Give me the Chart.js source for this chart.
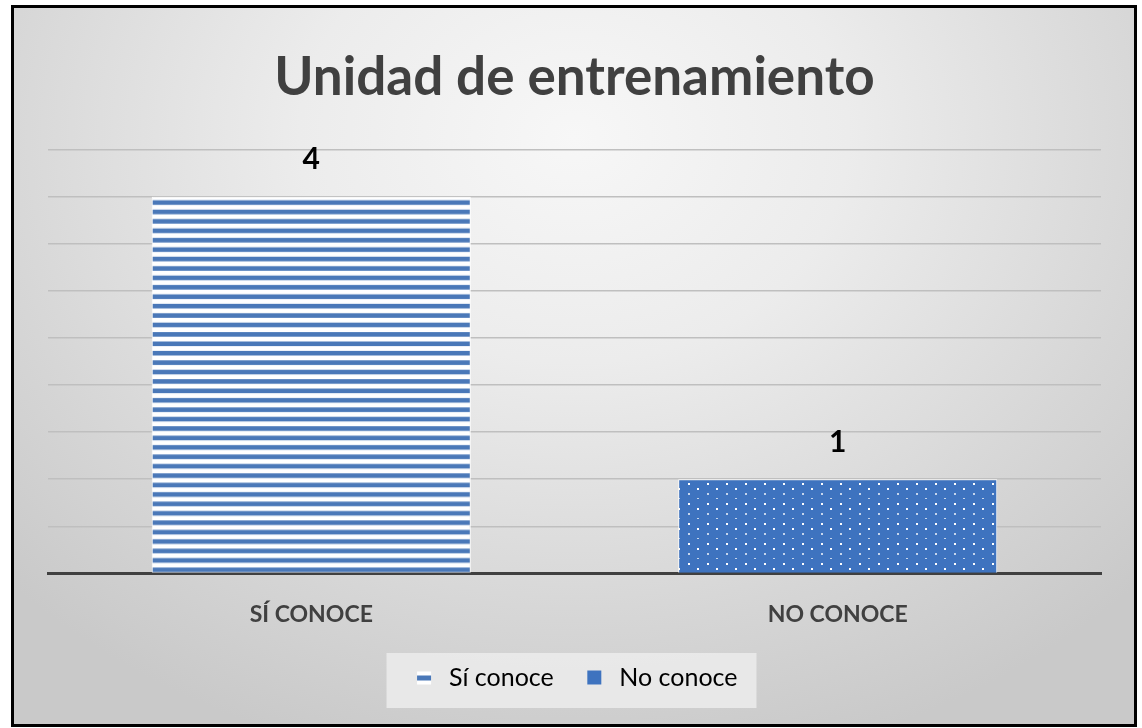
<!DOCTYPE html>
<html>
<head>
<meta charset="utf-8">
<script src="https://cdn.jsdelivr.net/npm/chart.js@4.4.0/dist/chart.umd.min.js"></script>
<style>
html, body { margin: 0; padding: 0; background: #ffffff; }
#marco {
    position: absolute; left: 11px; top: 5px; width: 1120px; height: 716px;
    border: 3px solid #000000;
    background: radial-gradient(ellipse 70% 90% at 50% 18%, #f7f7f7 0%, #ececec 35%, #d6d6d6 75%, #c9c9c9 100%);
}
#caja { position: absolute; left: 0; top: 0; width: 1142px; height: 728px; }
</style>
</head>
<body>
<div id="marco"></div>
<div id="caja"><canvas id="graph_unidad"></canvas></div>
<script>
/*------------------------------*/
/*          Datos               */
/*------------------------------*/
var categorias = ['SÍ CONOCE', 'NO CONOCE']
var leyendas = ['Sí conoce', 'No conoce']
var valores = [4, 1]
var eje_min = 0
var eje_max = 4.5
var eje_paso = 0.5

/*------------------------------*/
/*          Tramas              */
/*------------------------------*/
var ctx_unidad = document.getElementById('graph_unidad').getContext('2d')

function tramaRayas() {
    var c = document.createElement('canvas')
    c.width = 10; c.height = 47
    var g = c.getContext('2d')
    g.fillStyle = '#ffffff'
    g.fillRect(0, 0, 10, 47)
    g.fillStyle = '#4a78b8'
    for (var k = 0; k < 5; k++) g.fillRect(0, 3.5 + k * 9.4, 10, 4.6)
    return ctx_unidad.createPattern(c, 'repeat')
}

function tramaPuntos() {
    var c = document.createElement('canvas')
    c.width = 19; c.height = 20
    var g = c.getContext('2d')
    g.fillStyle = '#3e73bf'
    g.fillRect(0, 0, 19, 20)
    g.fillStyle = '#ffffff'
    g.fillRect(4, 3, 2, 2)
    g.fillRect(13, 8, 2, 2)
    g.fillStyle = 'rgba(255,255,255,0.7)'
    g.fillRect(4, 13, 2, 2)
    g.fillRect(13, 18, 2, 1)
    return ctx_unidad.createPattern(c, 'repeat')
}

var rayas = tramaRayas()
var puntos = tramaPuntos()

function icono(tipo) {
    var c = document.createElement('canvas')
    c.width = 16; c.height = 16
    var g = c.getContext('2d')
    if (tipo === 0) {
        g.fillStyle = '#ffffff'
        g.fillRect(1, 2, 14, 13)
        g.fillStyle = '#4a78b8'
        g.fillRect(1, 6, 14, 5)
    } else {
        g.fillStyle = '#3e73bf'
        g.fillRect(1, 1, 14, 14)
    }
    return c
}

/*------------------------------*/
/*          Plugins             */
/*------------------------------*/
var fondoLeyenda = {
    id: 'fondoLeyenda',
    beforeDatasetsDraw: function (chart) {
        var y = chart.scales.y
        var paso = y.getPixelForValue(0) - y.getPixelForValue(eje_paso)
        rayas.setTransform(new DOMMatrix([1, 0, 0, paso / 47, 0, y.getPixelForValue(0)]))
    },
    beforeDraw: function (chart) {
        var cajas = chart.legend.legendHitBoxes
        var g = chart.ctx
        var ultima = cajas[cajas.length - 1]
        var izq = cajas[0].left - 25
        var der = ultima.left + ultima.width + 19
        g.save()
        g.fillStyle = 'rgba(236,236,236,0.85)'
        g.fillRect(izq, cajas[0].top - 12, der - izq, 55)
        g.restore()
    }
}

var etiquetas = {
    id: 'etiquetas',
    afterDatasetsDraw: function (chart) {
        var g = chart.ctx
        var meta = chart.getDatasetMeta(0)
        g.save()
        g.font = 'bold 30px Lato'
        g.fillStyle = '#000000'
        g.textAlign = 'center'
        g.textBaseline = 'middle'
        meta.data.forEach(function (barra, i) {
            g.fillText(valores[i], barra.x, barra.y - 37)
        })
        g.restore()
    }
}

/*------------------------------*/
/*          Grafico             */
/*------------------------------*/
var data_unidad = {
    labels: categorias,
    datasets: [
        {
            label: 'Unidad de entrenamiento',
            data: valores,
            backgroundColor: [rayas, puntos],
            borderColor: '#ffffff',
            borderWidth: 1,
            categoryPercentage: 1,
            barPercentage: 0.606
        }
    ]
}

var config_unidad = {
    type: 'bar',
    data: data_unidad,
    options: {
        responsive: true,
        maintainAspectRatio: false,
        animation: false,
        layout: { padding: { left: 48, right: 41, top: 0, bottom: 28 } },
        scales: {
            x: {
                grid: { display: false, drawTicks: false },
                border: { color: '#404040', width: 3 },
                ticks: {
                    color: '#404040',
                    padding: 27,
                    font: { family: 'Lato', size: 23, weight: 'bold' }
                },
                afterFit: function (escala) { escala.height -= 18 }
            },
            y: {
                min: eje_min,
                max: eje_max,
                ticks: { display: false, stepSize: eje_paso },
                border: { display: false },
                grid: { color: '#bfbfbf', lineWidth: 1.5, drawTicks: false }
            }
        },
        plugins: {
            title: {
                display: true,
                text: 'Unidad de entrenamiento',
                color: '#404040',
                font: { family: 'Lato', size: 53, weight: 'bold' },
                padding: { top: 46, bottom: 40 }
            },
            legend: {
                position: 'bottom',
                labels: {
                    color: '#404040',
                    font: { family: 'Lato', size: 25 },
                    usePointStyle: true,
                    padding: 28,
                    generateLabels: function (chart) {
                        return leyendas.map(function (t, i) {
                            return {
                                text: t,
                                pointStyle: icono(i),
                                fillStyle: 'transparent',
                                strokeStyle: 'transparent',
                                lineWidth: 0,
                                hidden: false,
                                index: i,
                                datasetIndex: 0
                            }
                        })
                    }
                }
            },
            tooltip: { enabled: false }
        }
    },
    plugins: [fondoLeyenda, etiquetas]
}
var graph_unidad = new Chart(ctx_unidad, config_unidad)
</script>
</body>
</html>
